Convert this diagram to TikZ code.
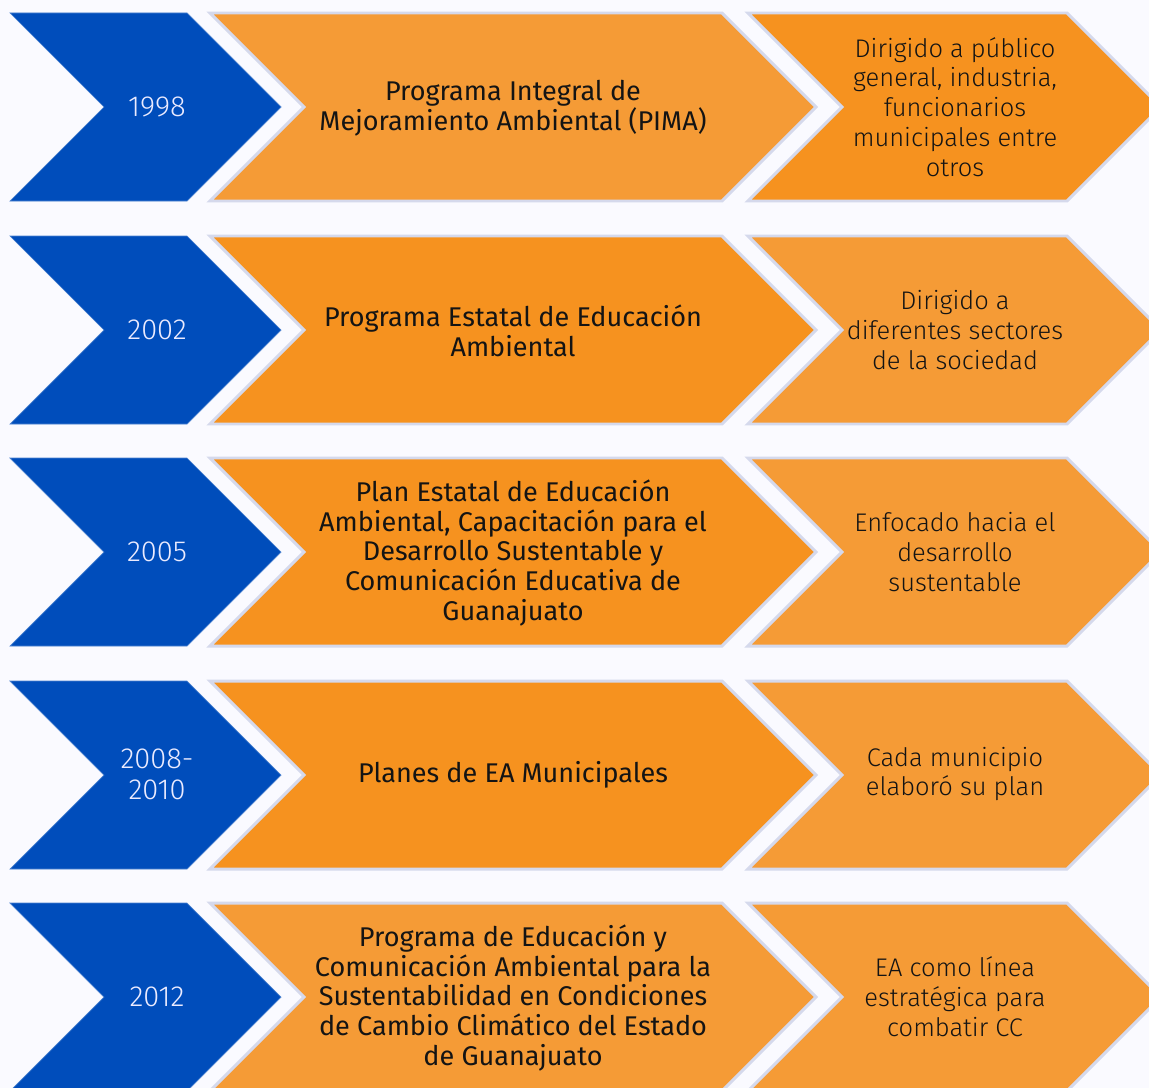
\documentclass[tikz,border=0pt]{standalone}
\usepackage{fontspec}
\setmainfont{Fira Sans Light}
\newfontfamily\midfont{Fira Sans}
\usepackage{xcolor}

\definecolor{chevblue}{HTML}{004DBB}
\definecolor{orlight}{HTML}{F59B36}
\definecolor{ordark}{HTML}{F6921F}
\definecolor{rim}{HTML}{D5D9EC}
\definecolor{ink}{HTML}{141414}

\tikzset{
  yeartext/.style={text=white!92!blue, align=center, font=\fontsize{16.5}{17.5}\selectfont},
  maintext/.style={text=ink, align=center, font=\midfont\fontsize{15.4}{17}\selectfont},
  notetext/.style={text=ink, align=center, font=\fontsize{14.5}{17}\selectfont},
  blueshape/.style={fill=chevblue, draw=chevblue!70!white, line width=0.4pt},
  orshape/.style={draw=rim, line width=1.7pt, line join=miter}
}

\begin{document}
\begin{tikzpicture}[x=0.02cm, y=-0.02cm]
        \fill[white!98!blue] (0,0) rectangle (1149,1088);
        \useasboundingbox (0,0) rectangle (1149,1088);

        \begin{scope}
        \clip (0,0) rectangle (1149,1088);
        \foreach \t/\cm/\cr in {13/orlight/ordark, 236/ordark/orlight, 458/ordark/orlight,
                                681/ordark/orlight, 903/orlight/orlight}
        {
            \draw[blueshape] (10,\t) -- (187,\t) -- (281,\t+94) -- (187,\t+188)
                -- (10,\t+188) -- (104,\t+94) -- cycle;
            \draw[orshape, fill=\cm] (210,\t) -- (722,\t) -- (816,\t+94) -- (722,\t+188)
                -- (210,\t+188) -- (304,\t+94) -- cycle;
            \draw[orshape, fill=\cr] (748,\t) -- (1067,\t) -- (1161,\t+94) -- (1067,\t+188)
                -- (748,\t+188) -- (842,\t+94) -- cycle;
        }
        \end{scope}

        % years
        \node[yeartext] (y1) at (157,107) {1998};
        \node[yeartext] (y2) at (157,330) {2002};
        \node[yeartext] (y3) at (157,552) {2005};
        \node[yeartext] (y4) at (157,774) {2008-\\2010};
        \node[yeartext] (y5) at (157,997) {2012};

        % programas
        \node[maintext] (p1) at (513,108) {Programa Integral de\\Mejoramiento Ambiental (PIMA)};
        \node[maintext] (p2) at (513,331) {Programa Estatal de Educación\\Ambiental};
        \node[maintext] (p3) at (513,553) {Plan Estatal de Educación\\Ambiental, Capacitación para el\\Desarrollo Sustentable y\\Comunicación Educativa de\\Guanajuato};
        \node[maintext] (p4) at (513,775) {Planes de EA Municipales};
        \node[maintext] (p5) at (513,998) {Programa de Educación y\\Comunicación Ambiental para la\\Sustentabilidad en Condiciones\\de Cambio Climático del Estado\\de Guanajuato};

        % alcance
        \node[notetext] (n1) at (955,107) {Dirigido a público\\general, industria,\\funcionarios\\municipales entre\\otros};
        \node[notetext] (n2) at (955,330) {Dirigido a\\diferentes sectores\\de la sociedad};
        \node[notetext] (n3) at (955,552) {Enfocado hacia el\\desarrollo\\sustentable};
        \node[notetext] (n4) at (955,774) {Cada municipio\\elaboró su plan};
        \node[notetext] (n5) at (955,997) {EA como línea\\estratégica para\\combatir CC};
\end{tikzpicture}
\end{document}
